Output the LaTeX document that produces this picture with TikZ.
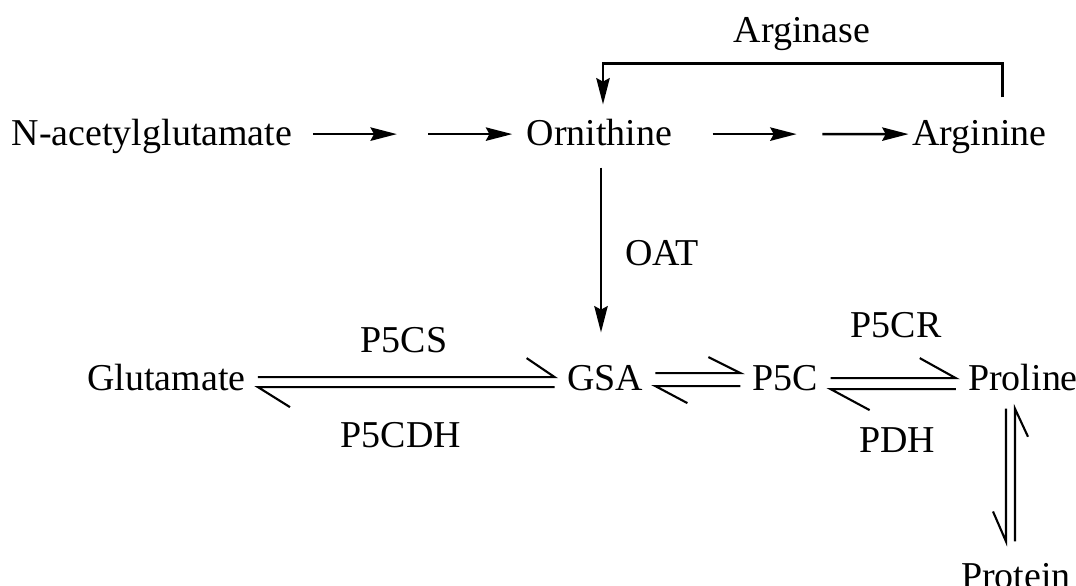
\documentclass[tikz,border=0pt]{standalone}
\usepackage{fontspec}
\setmainfont{Liberation Serif}
\usetikzlibrary{arrows.meta}
\usetikzlibrary{calc}
\usetikzlibrary{positioning}
\tikzstyle{arrow} = [line width=0.7pt,-{Stealth[length=7.5pt,width=3.8pt,inset=1pt]}]
\tikzstyle{eqline} = [line width=0.6pt]
\tikzstyle{chem} = [anchor=base,text height=8pt,text depth=1.8pt]
\tikzstyle{enzyme} = [anchor=base]

\begin{document}
\begin{tikzpicture}[font=\fontsize{10.8}{13}\selectfont]

    \useasboundingbox (0,0) rectangle (10.76,5.85);

  % metabolites
  \node[chem] (nag)  at (1.52,4.40)  {N-acetylglutamate};
  \node[chem] (orn)  at (5.995,4.40) {Ornithine};
  \node[chem] (arg)  at (9.795,4.40) {Arginine};
  \node[chem] (glu)  at (1.665,1.95) {Glutamate};
  \node[chem] (gsa)  at (6.05,1.95)  {GSA};
  \node[chem] (p5c)  at (7.855,1.95) {P5C};
  \node[chem] (pro)  at (10.23,1.95) {Proline};
  \node[chem] (prot) at (10.16,-0.03) {Protein};

  % enzymes
  \node[enzyme] (arginase) at (8.02,5.43) {Arginase};
  \node[enzyme] (oat)      at (6.62,3.20) {OAT};
  \node[enzyme] (p5cs)     at (4.04,2.33) {P5CS};
  \node[enzyme] (p5cdh)    at (4.01,1.38) {P5CDH};
  \node[enzyme] (p5cr)     at (8.96,2.48) {P5CR};
  \node[enzyme] (pdh)      at (8.97,1.33) {PDH};

  % multi step arrows
  \draw[arrow] ($(nag.east)!0.04!(orn.west)$) -- ($(nag.east)!0.44!(orn.west)$);
  \draw[arrow] ($(nag.east)!0.59!(orn.west)$) -- ($(nag.east)!0.99!(orn.west)$);
  \draw[arrow] ($(orn.east)!0.13!(arg.west)$) -- ($(orn.east)!0.52!(arg.west)$);
  \draw[arrow] ($(orn.east)!0.64!(arg.west)$) -- ($(orn.east)!1.04!(arg.west)$);

  \draw[arrow,shorten <=0.07cm] ([xshift=0.23cm]arg.north) -- ++(0,0.41) -| ([xshift=0.035cm]orn.north);
  \draw[arrow,shorten <=0.04cm,shorten >=0.17cm] ([xshift=0.015cm]orn.south) -- ([xshift=0.015cm]orn.south |- gsa.north);

  % reversible steps
  \draw[eqline] ([yshift=0.02cm]glu.east) -- ([yshift=0.02cm]gsa.west) -- ++(-0.28,0.19);
  \draw[eqline] ([yshift=-0.08cm]gsa.west) -- ([yshift=-0.08cm]glu.east) -- ++(0.32,-0.20);

  \draw[eqline] ([yshift=0.06cm]gsa.east) -- ([yshift=0.06cm]p5c.west) -- ++(-0.32,0.16);
  \draw[eqline] ([yshift=-0.07cm]p5c.west) -- ([yshift=-0.07cm]gsa.east) -- ++(0.32,-0.17);

  \draw[eqline] ([yshift=0.01cm]p5c.east) -- ([yshift=0.01cm]pro.west) -- ++(-0.36,0.20);
  \draw[eqline] ([yshift=-0.10cm]pro.west) -- ([yshift=-0.10cm]p5c.east) -- ++(0.39,-0.21);

  \draw[eqline,shorten <=0.06cm] ([xshift=-0.08cm]pro.south |- prot.north) -- ([xshift=-0.08cm]pro.south) -- ++(0.13,-0.28);
  \draw[eqline] ([xshift=-0.17cm]pro.south) -- ([xshift=-0.17cm,yshift=0.06cm]pro.south |- prot.north) -- ++(-0.13,0.30);

\end{tikzpicture}
\end{document}
